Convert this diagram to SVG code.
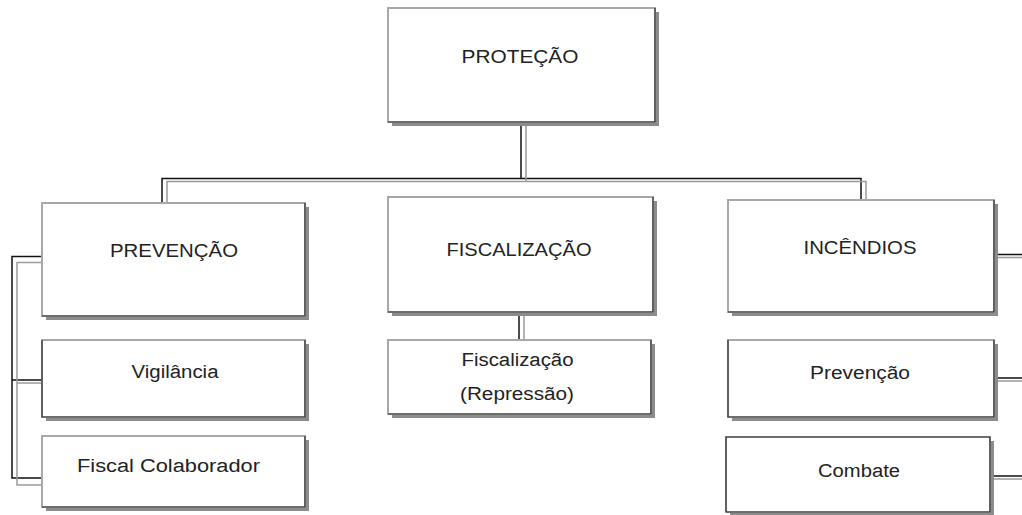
<svg xmlns="http://www.w3.org/2000/svg" width="1022" height="515" viewBox="0 0 1022 515">
<style>
.sh{fill:#8c8c8c}
.bx{fill:#fff;stroke:#a8a8a8;stroke-width:2}
.ed{fill:none;stroke:#333;stroke-width:1.2}
.t{font-family:"Liberation Sans",Arial,sans-serif;font-size:18px;fill:#222;text-anchor:middle}
.k{stroke:#111;stroke-width:1.5;fill:none}
.g{stroke:#9a9a9a;stroke-width:1.5;fill:none}
</style>
<rect width="1022" height="515" fill="#fff"/>
<g id="connectors">
<path class="k" d="M521 123V178.5M162 203V178.5H861V200"/>
<path class="g" d="M526 123V181.5M167 203V181.5H866V200"/>
<path class="k" d="M519 312V340"/>
<path class="g" d="M524 312V340"/>
<path class="k" d="M42 256.5H12V478H42M12 380H42"/>
<path class="g" d="M42 262.5H17V485H42M17 383H42"/>
<path class="k" d="M995 254.5H1022M995 378H1022M992 476H1022"/>
<path class="g" d="M997 257.5H1022M997 381H1022M994 479H1022"/>
</g>
<g id="protecao">
<rect class="sh" x="392" y="12" width="267" height="114"/>
<rect class="bx" x="388" y="8" width="267" height="114"/>
<path class="ed" d="M655 8V122H388"/>
<text class="t" x="520" y="63" textLength="117" lengthAdjust="spacingAndGlyphs">PROTEÇÃO</text>
</g>
<g id="prevencao">
<rect class="sh" x="46" y="207" width="263" height="113"/>
<rect class="bx" x="42" y="203" width="263" height="113"/>
<path class="ed" d="M305 203V316H42"/>
<text class="t" x="174" y="257" textLength="128" lengthAdjust="spacingAndGlyphs">PREVENÇÃO</text>
</g>
<g id="fiscalizacao">
<rect class="sh" x="392" y="201" width="265" height="115"/>
<rect class="bx" x="388" y="197" width="265" height="115"/>
<path class="ed" d="M653 197V312H388"/>
<text class="t" x="519" y="256" textLength="145" lengthAdjust="spacingAndGlyphs">FISCALIZAÇÃO</text>
</g>
<g id="incendios">
<rect class="sh" x="732" y="204" width="266" height="112"/>
<rect class="bx" x="728" y="200" width="266" height="112"/>
<path class="ed" d="M994 200V312H728"/>
<text class="t" x="860" y="254" textLength="113" lengthAdjust="spacingAndGlyphs">INCÊNDIOS</text>
</g>
<g id="vigilancia">
<rect class="sh" x="46" y="344" width="263" height="77"/>
<rect class="bx" x="42" y="340" width="263" height="77"/>
<path class="ed" d="M42 340V417H305V340"/>
<text class="t" x="175" y="378" textLength="87" lengthAdjust="spacingAndGlyphs">Vigilância</text>
</g>
<g id="fiscal-colaborador">
<rect class="sh" x="46" y="440" width="263" height="71"/>
<rect class="bx" x="42" y="436" width="263" height="71"/>
<path class="ed" d="M305 436V507H42"/>
<text class="t" x="168.5" y="472" textLength="183" lengthAdjust="spacingAndGlyphs">Fiscal Colaborador</text>
</g>
<g id="fiscalizacao-repressao">
<rect class="sh" x="392" y="344" width="263" height="74"/>
<rect class="bx" x="388" y="340" width="263" height="74"/>
<path class="ed" d="M651 340V414H388"/>
<text class="t" x="517.5" y="366" textLength="112" lengthAdjust="spacingAndGlyphs">Fiscalização</text>
<text class="t" x="517" y="400" textLength="114" lengthAdjust="spacingAndGlyphs">(Repressão)</text>
</g>
<g id="incendios-prevencao">
<rect class="sh" x="732" y="344" width="266" height="77"/>
<rect class="bx" x="728" y="340" width="266" height="77"/>
<path class="ed" d="M994 340V417H728V340"/>
<text class="t" x="860" y="379" textLength="100" lengthAdjust="spacingAndGlyphs">Prevenção</text>
</g>
<g id="combate">
<rect class="sh" x="730" y="441" width="264" height="75"/>
<rect class="bx" x="726" y="437" width="264" height="75"/>
<path class="ed" d="M726 512V437H990V512H726"/>
<text class="t" x="859" y="477" textLength="82" lengthAdjust="spacingAndGlyphs">Combate</text>
</g>
</svg>
